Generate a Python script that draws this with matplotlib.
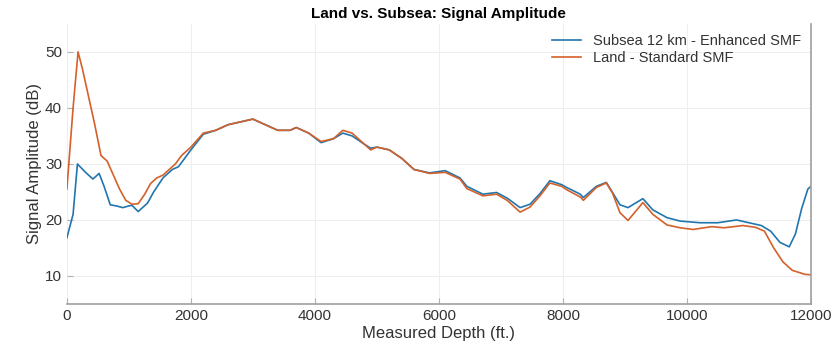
import matplotlib
matplotlib.use("Agg")
import matplotlib.pyplot as plt

plt.rcParams['font.family'] = ['Liberation Sans', 'DejaVu Sans']

land_x = [0, 100, 180, 250, 350, 450, 550, 650, 750, 850, 950, 1050, 1150, 1250,
          1350, 1450, 1550, 1650, 1750, 1850, 2000, 2200, 2400, 2600, 2800, 3000,
          3200, 3400, 3600, 3700, 3900, 4100, 4300, 4450, 4600, 4800, 4900, 5000,
          5200, 5400, 5600, 5850, 6100, 6340, 6450, 6710, 6930, 7100, 7310,
          7470, 7630, 7790, 7980, 8060, 8280, 8330, 8540, 8700, 8800, 8920, 9050,
          9290, 9450, 9680, 9890, 10100, 10400, 10600, 10900, 11100, 11250, 11400,
          11550, 11700, 11900, 12000]
land_y = [25.5, 40, 50, 47, 42, 37, 31.5, 30.5, 28, 25.5, 23.5, 22.8, 22.9, 24.5,
          26.5, 27.5, 28, 29, 30, 31.5, 33, 35.5, 36, 37, 37.5, 38,
          37, 36, 36, 36.5, 35.5, 34, 34.5, 36, 35.5, 33.5, 32.5, 33,
          32.5, 31, 29, 28.3, 28.5, 27.3, 25.6, 24.3, 24.6, 23.5, 21.4,
          22.3, 24.3, 26.6, 26, 25.4, 24.1, 23.5, 25.8, 26.6, 24.8, 21.3, 19.9,
          23.1, 21, 19.1, 18.6, 18.3, 18.8, 18.6, 19, 18.7, 18, 15,
          12.5, 11, 10.3, 10.2]

sub_x = [0, 100, 170, 300, 420, 520, 600, 700, 800, 900, 1000, 1050, 1150, 1300,
         1400, 1550, 1700, 1800, 2000, 2200, 2400, 2600, 2800, 3000, 3200, 3400,
         3600, 3700, 3900, 4100, 4300, 4450, 4600, 4800, 4900, 5000, 5200, 5400,
         5600, 5850, 6100, 6340, 6450, 6710, 6930, 7100, 7310, 7470, 7630, 7790,
         7980, 8060, 8280, 8330, 8540, 8700, 8800, 8920, 9050, 9290, 9450, 9680,
         9890, 10210, 10500, 10800, 11000, 11200, 11350, 11500, 11650, 11750,
         11850, 11950, 12000]
sub_y = [16.8, 21, 30, 28.5, 27.3, 28.3, 26, 22.7, 22.5, 22.2, 22.5, 22.6, 21.5, 23,
         25, 27.5, 29, 29.5, 32.5, 35.3, 36, 37, 37.5, 38, 37, 36,
         36, 36.5, 35.5, 33.8, 34.5, 35.5, 35, 33.5, 32.8, 33, 32.5, 31,
         29, 28.4, 28.8, 27.5, 26, 24.6, 24.9, 23.9, 22.2, 22.8, 24.7, 27,
         26.3, 25.8, 24.6, 24, 26, 26.7, 24.9, 22.7, 22.2, 23.8, 21.8, 20.4,
         19.8, 19.5, 19.5, 20, 19.5, 19, 18, 16, 15.2, 17.5,
         22, 25.5, 26]

fig = plt.figure(figsize=(8.36, 3.51), dpi=100)
ax = fig.add_axes([0.080, 0.134, 0.890, 0.798])

ax.plot(sub_x, sub_y, color='#2176ae', lw=1.2, label='Subsea 12 km - Enhanced SMF')
ax.plot(land_x, land_y, color='#d4602a', lw=1.2, label='Land - Standard SMF')

ax.set_xlim(0, 12000)
ax.set_ylim(5, 55)
ax.set_xticks([0, 2000, 4000, 6000, 8000, 10000, 12000])
ax.set_yticks([10, 20, 30, 40, 50])
ax.grid(True, color='#eeeeee', lw=0.8)
ax.set_axisbelow(True)

for s in ['left', 'top']:
    ax.spines[s].set_visible(False)
for s in ['bottom', 'right']:
    ax.spines[s].set_color('#a0a0a0')
    ax.spines[s].set_linewidth(1.2)

ax.tick_params(direction='in', colors='#b0b0b0', labelcolor='#333333',
               labelsize=11, length=4)

ax.set_xlabel('Measured Depth (ft.)', fontsize=12, color='#333333', labelpad=2)
ax.set_ylabel('Signal Amplitude (dB)', fontsize=12, color='#333333', labelpad=2)
ax.set_title('Land vs. Subsea: Signal Amplitude', fontsize=11, fontweight='bold', pad=4)

leg = ax.legend(loc='upper right', frameon=False, fontsize=10.5,
                handlelength=2.0, borderaxespad=0.3, labelspacing=0.2)
for t in leg.get_texts():
    t.set_color('#333333')

fig.savefig('out.png', dpi=100)
